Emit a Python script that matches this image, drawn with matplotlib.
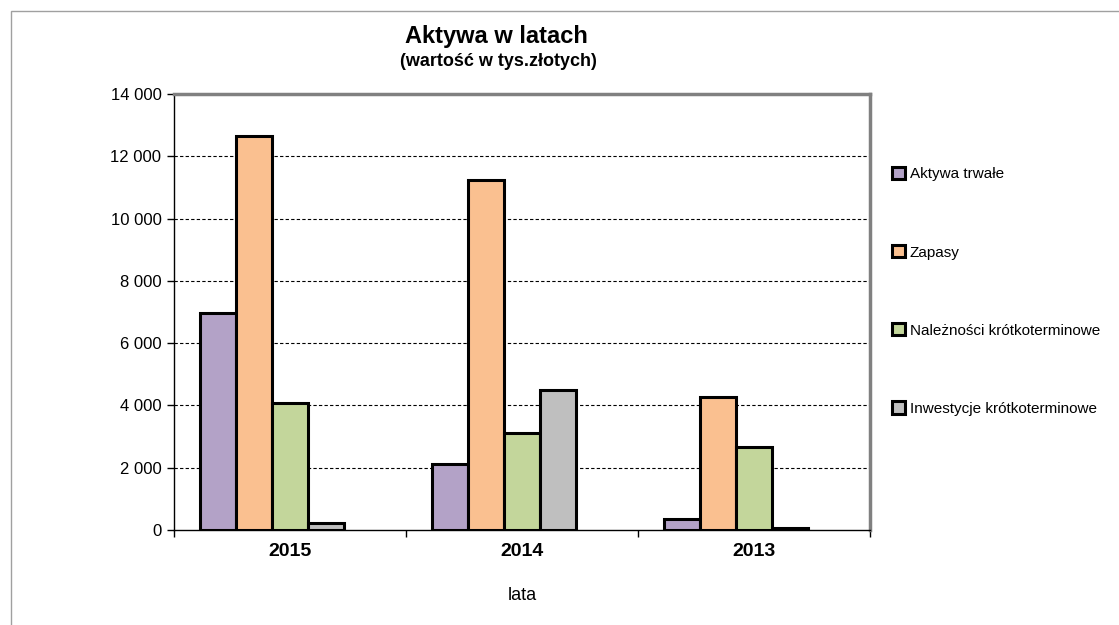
import matplotlib
matplotlib.use("Agg")
import matplotlib.pyplot as plt
from matplotlib.patches import Rectangle
import numpy as np

plt.rcParams['font.family'] = ['Liberation Sans', 'DejaVu Sans']

years = ["2015", "2014", "2013"]
series_names = ["Aktywa trwałe", "Zapasy", "Należności krótkoterminowe", "Inwestycje krótkoterminowe"]
aktywa_trwale = [6970, 2120, 350]
zapasy = [12650, 11240, 4270]
naleznosci = [4080, 3110, 2670]
inwestycje = [210, 4500, 60]
colors = ["#B3A2C7", "#FAC090", "#C3D69B", "#BFBFBF"]
yticks = [0, 2000, 4000, 6000, 8000, 10000, 12000, 14000]
ytick_labels = ["0", "2 000", "4 000", "6 000", "8 000", "10 000", "12 000", "14 000"]

series = [aktywa_trwale, zapasy, naleznosci, inwestycje]

fig = plt.figure(figsize=(11.19, 6.25), dpi=100)
ax = fig.add_axes([174/1119, 1-530/625, (870-174)/1119, (530-94)/625])

x = np.arange(len(years))
w = 0.155
# 5 slots (last slot empty, as in the original)
offsets = (np.arange(5) - 2) * w
for i, (vals, c, name) in enumerate(zip(series, colors, series_names)):
    ax.bar(x + offsets[i], vals, width=w, color=c, edgecolor="black",
           linewidth=2.2, label=name, zorder=3)

ax.set_xlim(-0.5, 2.5)
ax.set_ylim(0, 14000)
ax.set_yticks(yticks)
ax.set_yticklabels(ytick_labels, fontsize=12)
ax.set_xticks(x)
ax.set_xticklabels(years, fontsize=14, fontweight="bold")
ax.set_xticks([-0.5, 0.5, 1.5, 2.5], minor=True)
ax.tick_params(axis="x", which="major", length=0, pad=9)
ax.tick_params(axis="x", which="minor", length=5, width=1, direction="out")
ax.tick_params(axis="y", length=5, width=1, direction="out", pad=4)

for yv in yticks[1:-1]:
    ax.axhline(yv, color="black", linestyle=(0, (3, 2)), linewidth=0.8, zorder=1)

ax.spines["top"].set_color("#808080")
ax.spines["top"].set_linewidth(2.5)
ax.spines["right"].set_color("#808080")
ax.spines["right"].set_linewidth(2.5)
ax.spines["left"].set_linewidth(1)
ax.spines["bottom"].set_linewidth(1)

ax.set_xlabel("lata", fontsize=13, labelpad=20)

fig.text(496/1119, 1-37/625, "Aktywa w latach", fontsize=17, fontweight="bold",
         ha="center", va="center")
fig.text(498/1119, 1-61/625, "(wartość w tys.złotych)", fontsize=13, fontweight="bold",
         ha="center", va="center")

leg = ax.legend(loc="upper left", bbox_to_anchor=(886/1119, 1-161/625),
                bbox_transform=fig.transFigure, frameon=False, fontsize=11,
                labelspacing=4.17, handlelength=0.85, handleheight=0.85,
                handletextpad=0.3, borderaxespad=0)

fig.patches.append(Rectangle((11/1119, -0.1), 1.2, 1 - 11/625 + 0.1,
                             transform=fig.transFigure, fill=False,
                             edgecolor="#A0A0A0", linewidth=1))

fig.savefig("out.png", dpi=100)
